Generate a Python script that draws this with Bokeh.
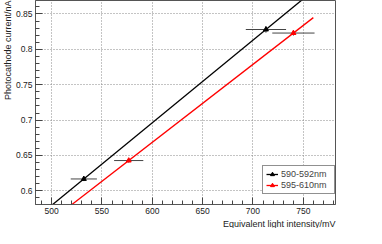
import numpy as np
from bokeh.plotting import figure
from bokeh.models import (Title, Legend, LegendItem, SingleIntervalTicker,
                          CustomJSTickFormatter)
from bokeh.embed import file_html
from bokeh.resources import INLINE

# ---- data ----
series_names = ["590-592nm", "595-610nm"]
series_colors = ["black", "red"]
intensity_590 = [532.0, 712.9]
current_590 = [0.6168, 0.828]
intensity_err_590 = [13.0, 20.0]
current_err_590 = [0.003, 0.0045]
intensity_595 = [576.6, 740.2]
current_595 = [0.6428, 0.823]
intensity_err_595 = [14.5, 21.0]
current_err_595 = [0.003, 0.0036]
fit_range = [490.0, 760.0]

x_range = (484, 782)
y_range = (0.5807, 0.869)

FONT = "Liberation Sans"

p = figure(width=366, height=228, x_range=x_range, y_range=y_range,
           output_backend="svg", toolbar_location=None,
           min_border_left=30, min_border_right=31, min_border_top=0,
           min_border_bottom=0)
p.background_fill_color = "white"
p.outline_line_color = "#555555"
p.outline_line_width = 1

for ax in (p.xaxis[0], p.yaxis[0]):
    ax.axis_line_color = "#555555"
    ax.major_tick_line_color = "#444444"
    ax.minor_tick_line_color = "#444444"
    ax.major_tick_in = 7
    ax.major_tick_out = 0
    ax.minor_tick_in = 4
    ax.minor_tick_out = 0
    ax.major_label_text_font = FONT
    ax.major_label_text_font_size = "8.5px"
    ax.major_label_text_color = "#222222"
    ax.axis_label_standoff = 0

p.xaxis.ticker = SingleIntervalTicker(interval=50, num_minor_ticks=5)
p.yaxis.ticker = SingleIntervalTicker(interval=0.05, num_minor_ticks=5)
p.yaxis.formatter = CustomJSTickFormatter(code="return parseFloat(tick.toFixed(3)).toString();")
p.xaxis.major_label_standoff = 3
p.yaxis.major_label_standoff = 3

p.grid.grid_line_color = "#888888"
p.grid.grid_line_dash = "1 2"
p.grid.grid_line_width = 1

datasets = [
    (intensity_590, current_590, intensity_err_590, current_err_590),
    (intensity_595, current_595, intensity_err_595, current_err_595),
]

items = []
for (xs, ys, xe, ye), name, col in zip(datasets, series_names, series_colors):
    xs = np.array(xs); ys = np.array(ys); xe = np.array(xe); ye = np.array(ye)
    slope, icpt = np.polyfit(xs, ys, 1)
    fx = np.array(fit_range)
    ln = p.line(fx, slope * fx + icpt, line_color=col, line_width=1.3)
    p.segment(x0=xs - xe, y0=ys, x1=xs + xe, y1=ys, line_color="#444444", line_width=1)
    p.segment(x0=xs, y0=ys - ye, x1=xs, y1=ys + ye, line_color="#444444", line_width=1)
    sc = p.scatter(xs, ys, marker="triangle", size=5, fill_color=col, line_color=col)
    items.append(LegendItem(label=name, renderers=[ln, sc]))

legend = Legend(items=items, location=(227, 10))
legend.label_text_font = FONT
legend.label_text_font_size = "9px"
legend.padding = 3
legend.spacing = 1
legend.margin = 0
legend.label_height = 10
legend.glyph_height = 10
legend.glyph_width = 12
legend.label_standoff = 3
legend.label_width = 50
legend.border_line_color = "#222222"
legend.border_line_width = 1
legend.background_fill_alpha = 1
p.add_layout(legend, "center")

xtitle = Title(text="Equivalent light intensity/mV", align="right",
               text_font=FONT, text_font_size="9px", text_font_style="normal",
               text_color="#222222", standoff=0, offset=0)
ytitle = Title(text="Photocathode current/nA", align="right",
               text_font=FONT, text_font_size="9px", text_font_style="normal",
               text_color="#222222", standoff=0, offset=0)
p.add_layout(xtitle, "below")
p.add_layout(ytitle, "left")

open("out.html", "w").write(file_html(p, INLINE))
